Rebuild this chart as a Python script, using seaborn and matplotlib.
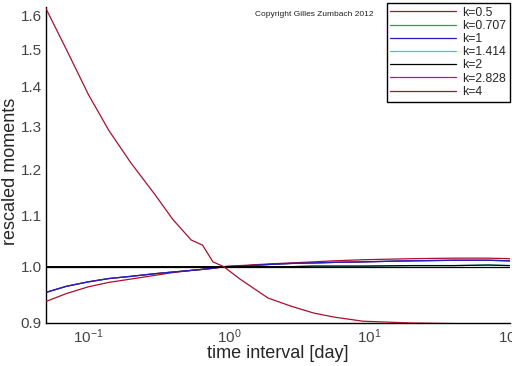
import numpy as np
import pandas as pd
import matplotlib
matplotlib.use("Agg")
import matplotlib.pyplot as plt
import matplotlib.ticker as mticker
import seaborn as sns

# data (time interval in days, rescaled moment)
t = [0.05, 0.07, 0.1, 0.14, 0.2, 0.3, 0.4, 0.54, 0.65, 0.77, 0.92, 1.2,
     1.9, 2.75, 4.0, 5.6, 9.0, 20.0, 40.0, 70.0, 100.0]

k05 = [0.937, 0.951, 0.963, 0.971, 0.977, 0.984, 0.989, 0.993, 0.995, 0.997, 1.000, 1.002,
       1.005, 1.007, 1.009, 1.011, 1.013, 1.015, 1.016, 1.016, 1.015]
k1 = [0.953, 0.964, 0.972, 0.978, 0.982, 0.987, 0.990, 0.993, 0.995, 0.997, 1.000, 1.001,
      1.004, 1.006, 1.007, 1.008, 1.009, 1.011, 1.012, 1.012, 1.011]
k2 = [1.0, 1.0, 1.0, 1.0, 1.0, 1.0, 1.0, 1.0, 1.0, 1.0, 1.0, 1.0,
      1.0, 1.0, 1.001, 1.001, 1.001, 1.002, 1.002, 1.003, 1.002]
k4 = [1.620, 1.500, 1.380, 1.290, 1.215, 1.143, 1.092, 1.051, 1.041, 1.009, 1.000, 0.977,
      0.943, 0.929, 0.917, 0.910, 0.903, 0.900, 0.899, 0.898, 0.898]
# these three sit underneath the visible curves
k0707 = k1
k1414 = k2
k2828 = k1

labels = ["k=0.5", "k=0.707", "k=1", "k=1.414", "k=2", "k=2.828", "k=4"]
series = [k05, k0707, k1, k1414, k2, k2828, k4]
colors = ["#a8102c", "#00c000", "#2020c0", "#00e0e0", "#000000", "#c000c0", "#a8102c"]
zorders = [3, 2, 4, 2, 5, 2, 6]

sns.set_style("white")
plt.rcParams["font.family"] = ["Liberation Sans", "DejaVu Sans"]
plt.rcParams["mathtext.default"] = "regular"

fig = plt.figure(figsize=(5.12, 3.66), dpi=100)
ax = fig.add_axes([46 / 512, 1 - 323 / 366, 464 / 512, 316 / 366])

handles = []
for lab, vals, col, z in zip(labels, series, colors, zorders):
    df = pd.DataFrame({"t": t, "m": vals})
    sns.lineplot(data=df, x="t", y="m", color=col, linewidth=0.9, zorder=z, ax=ax)
    handles.append(ax.lines[-1])

ax.axhline(1.0, color="black", linewidth=0.9, zorder=5)

ax.set_xscale("log")
ax.set_yscale("log")
ax.set_xlim(0.05, 100)
ax.set_ylim(0.9, 1.625)

ax.xaxis.set_major_locator(mticker.LogLocator(base=10, numticks=10))
ax.xaxis.set_minor_locator(mticker.LogLocator(base=10, subs=np.arange(2, 10), numticks=20))
ax.xaxis.set_major_formatter(mticker.LogFormatterMathtext())
ax.xaxis.set_minor_formatter(mticker.NullFormatter())

ax.yaxis.set_major_locator(mticker.FixedLocator(np.round(np.arange(0.9, 1.61, 0.1), 2)))
ax.yaxis.set_minor_locator(mticker.FixedLocator(np.round(np.arange(0.9, 1.63, 0.02), 2)))
ax.yaxis.set_major_formatter(mticker.FormatStrFormatter("%.1f"))
ax.yaxis.set_minor_formatter(mticker.NullFormatter())

for side in ["top", "right"]:
    ax.spines[side].set_visible(False)
for side in ["left", "bottom"]:
    ax.spines[side].set_color("black")
    ax.spines[side].set_linewidth(1.0)

ax.tick_params(which="major", direction="in", length=8, width=0.8, color="black",
               labelsize=11, labelcolor="#444444", pad=3)
ax.tick_params(which="minor", direction="in", length=4, width=0.8, color="black")
ax.tick_params(axis="x", which="major", pad=3)

ax.set_xlabel("time interval [day]", fontsize=13)
ax.set_ylabel("rescaled moments", fontsize=13)
ax.xaxis.set_label_coords(0.5, -30 / 316, transform=ax.transAxes)
ax.yaxis.set_label_coords(-35 / 464, 0.48, transform=ax.transAxes)
ax.xaxis.label.set_va("center")
ax.yaxis.label.set_va("center")

leg = ax.legend(handles, labels, loc="upper right", bbox_to_anchor=(1.0, 1.013),
                fontsize=8.8, frameon=True, fancybox=False, framealpha=1,
                edgecolor="black", handlelength=5.4, handletextpad=0.5,
                labelspacing=0.1, borderpad=0.3, borderaxespad=0)
leg.get_frame().set_linewidth(1.0)

fig.text(255 / 512, 1 - 15 / 366, "Copyright Gilles Zumbach 2012", fontsize=6,
         va="center", ha="left", color="#222222")

fig.savefig("out.png", dpi=100)
